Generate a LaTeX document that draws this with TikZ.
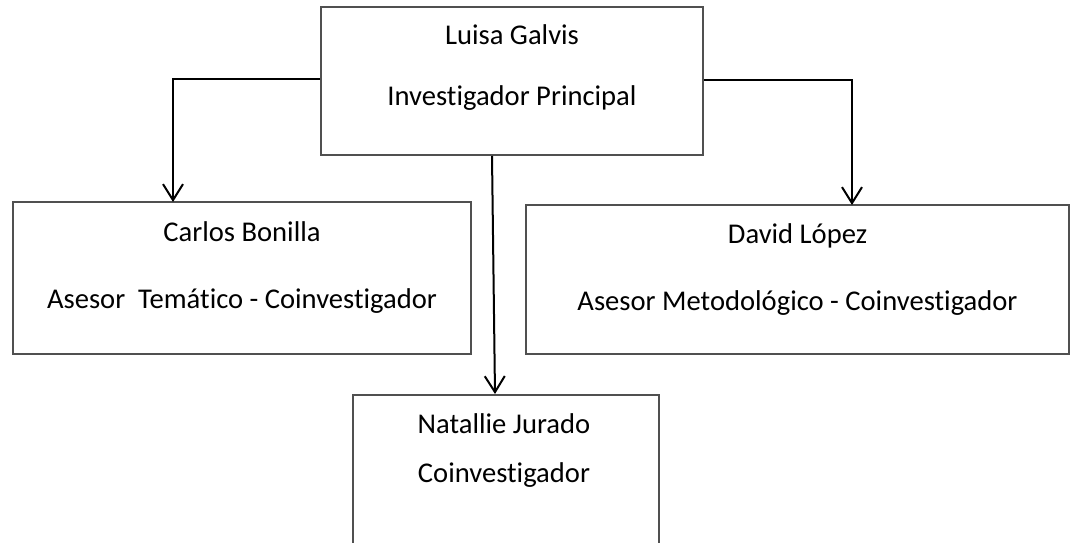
\documentclass[tikz,border=0pt]{standalone}
\usepackage{fontspec}
\setmainfont[Ligatures=NoCommon]{Carlito}
\usetikzlibrary{arrows.meta,positioning}
\definecolor{boxgray}{RGB}{80,80,80}

\begin{document}
\begin{tikzpicture}[x=1pt,y=1pt,>={Straight Barb[length=16pt,width=20pt]}]
	\tikzstyle{block} = [draw=boxgray, line width=2pt, rectangle]
	\tikzstyle{boxtext} = [anchor=base, inner sep=0pt, font=\fontsize{28.6}{34}\selectfont]
	\tikzstyle{link} = [->, line width=2pt]

	\useasboundingbox (0,0) rectangle (1076,542);
	\clip (0,0) rectangle (1076,542);

	% boxes
	\node [block, minimum width=382pt, minimum height=148pt] (lg) at (512,461) {};
	\node [block, minimum width=458pt, minimum height=152pt] (cb) at (242,264) {};
	\node [block, minimum width=543pt, minimum height=149pt] (dl) at (797.5,262.5) {};
	\node [block, minimum width=306pt, minimum height=155pt] (nj) at (506,69.5) {};

	% texts
	\node [boxtext] (lgname) at (512,497) {Luisa Galvis};
	\node [boxtext] (lgrole) at (512,436) {Investigador Principal};
	\node [boxtext] (cbname) at (242,301) {Carlos Bonilla};
	\node [boxtext] (cbrole) at (242,234) {Asesor\ \ Temático - Coinvestigador};
	\node [boxtext] (dlname) at (797.5,299) {David López};
	\node [boxtext] (dlrole) at (797.5,232) {Asesor Metodológico - Coinvestigador};
	\node [boxtext] (njname) at (504,109) {Natallie Jurado};
	\node [boxtext] (njrole) at (504,60) {Coinvestigador};

	\coordinate (cbin) at (173,340);
	\coordinate (dlin) at (852,337);

	\draw [link] ([yshift=2pt]lg.west) -| (cbin);
	\draw [link] ([yshift=1pt]lg.east) -| (dlin);
	\draw [link] ([xshift=-20pt]lg.south) -- ([xshift=-11pt]nj.north);
\end{tikzpicture}
\end{document}
